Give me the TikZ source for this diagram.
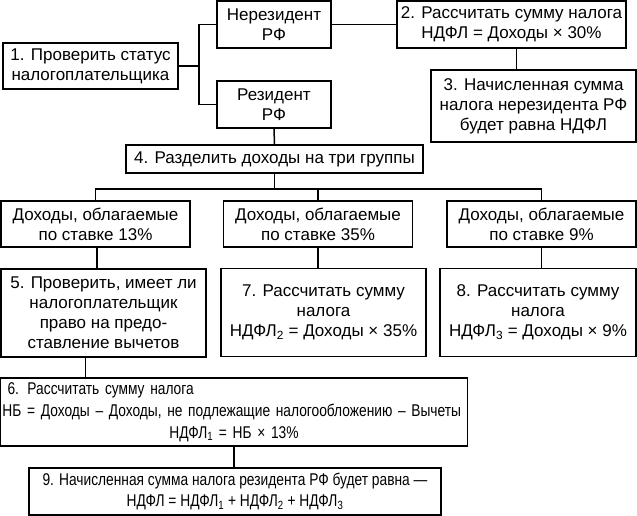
\documentclass[tikz,border=0pt]{standalone}
\usepackage{fontspec}
\setmainfont{Liberation Sans}
\newfontfamily\narrowfont[FakeStretch=0.81]{Liberation Sans}
\newcommand{\ndfl}[1]{НДФЛ\textsubscript{#1}}

\tikzset{
	box/.style = {draw, line width=1.5pt, align=center, inner sep=2pt,
		font=\fontsize{17}{20}\selectfont},
	link/.style = {line width=1.5pt},
}

\begin{document}
\begin{tikzpicture}[x=1pt, y=-1pt]
	\useasboundingbox[fill=white] (0,0) rectangle (637,516);
	% status of the taxpayer
	\node[box, minimum width=175, minimum height=46] (st) at (90.5,66) {1. Проверить статус\\налогоплательщика};
	\node[box, minimum width=114, minimum height=47] (nr) at (274,24.5) {Нерезидент\\РФ};
	\node[box, minimum width=114, minimum height=47] (rz) at (274,104.5) {Резидент\\РФ};
	\node[box, minimum width=229, minimum height=47] (s2) at (511.5,24.5) {2. Рассчитать сумму налога\\НДФЛ = Доходы × 30\%};
	\node[box, minimum width=205, minimum height=72] (s3) at (533.5,106) {3. Начисленная сумма\\налога нерезидента РФ\\будет равна НДФЛ};
	\node[box, minimum width=297, minimum height=28] (s4) at (274.5,159) {4. Разделить доходы на три группы};
	% three groups of income
	\foreach \x/\r in {95.5/13, 318/35, 541.5/9}{
		\node[box, minimum width=189, minimum height=46] (d\r) at (\x,224) {Доходы, облагаемые\\по ставке \r\%};
		};
	\node[box, minimum width=205, minimum height=88] (s5) at (103.5,313) {5. Проверить, имеет ли\\налогоплательщик\\право на предо-\\ставление вычетов};
	\node[box, minimum width=205, minimum height=88] (s7) at (323.5,312.5) {7. Рассчитать сумму\\налога\\\ndfl{2} = Доходы × 35\%};
	\node[box, minimum width=196, minimum height=88] (s8) at (538,312.5) {8. Рассчитать сумму\\налога\\\ndfl{3} = Доходы × 9\%};
	\node[box, minimum width=467, minimum height=68, text width=463, align=left, inner xsep=2pt,
		font=\narrowfont\fontsize{17}{22}\selectfont] (s6) at (234,412)
		{\hspace*{5pt}6. Рассчитать сумму налога\\НБ = Доходы – Доходы, не подлежащие налогообложению – Вычеты\\\makebox[\linewidth]{\ndfl{1} = НБ × 13\%}};
	\node[box, minimum width=412, minimum height=47, font=\narrowfont\fontsize{17}{21}\selectfont] (s9) at (235,491.5)
		{9. Начисленная сумма налога резидента РФ будет равна —\\НДФЛ = \ndfl{1} + \ndfl{2} + \ndfl{3}};
	% connectors
	\draw[link] (st.east) -- ++(20,0) coordinate (j1);
	\draw[link] (nr.west) -| (j1) |- (rz.west);
	\draw[link] (nr.east) -- (s2.west);
	\draw[link] ([xshift=5pt]s2.south) -- ([xshift=5pt]s2.south |- s3.north);
	\draw[link] (rz.south) -- (s4.north);
	\draw[link] (s4.south) -- ++(0,15) coordinate (bus);
	\draw[link] (d13.north) |- (bus) -| (d9.north);
	\draw[link] (d35.north) -- (d35.north |- bus);
	\draw[link] ([xshift=1.5pt]d13.south) -- ([xshift=1.5pt]d13.south |- s5.north);
	\draw[link] (d35.south) -- (d35.south |- s7.north);
	\draw[link] (d9.south) -- (d9.south |- s8.north);
	\draw[link] ([xshift=-18pt]s5.south) -- ([xshift=-18pt]s5.south |- s6.north);
	\draw[link] (s6.south) -- (s6.south |- s9.north);
\end{tikzpicture}
\end{document}
